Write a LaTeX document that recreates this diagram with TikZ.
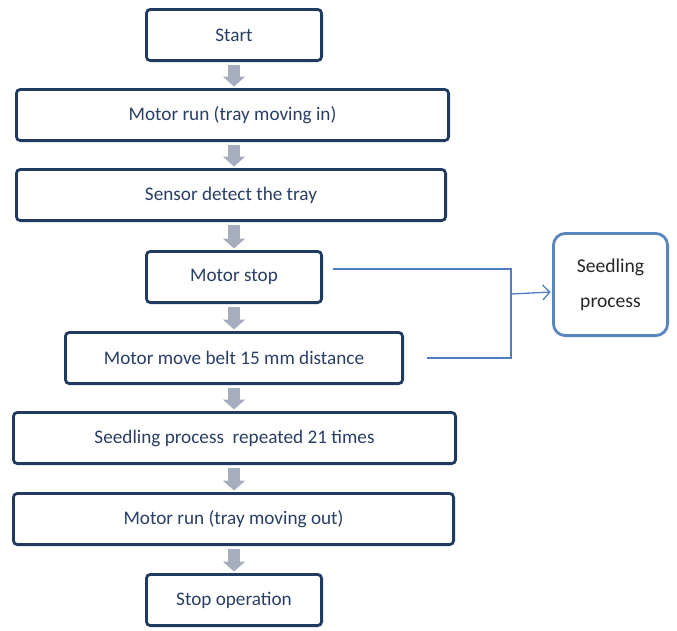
\documentclass[tikz,border=0pt]{standalone}
\usepackage{fontspec}
\setmainfont{Carlito}
\usetikzlibrary{arrows.meta}
\definecolor{boxline}{HTML}{213A62}
\definecolor{boxtext}{HTML}{2A3F66}
\definecolor{sideline}{HTML}{5A86C0}
\definecolor{linkline}{HTML}{4F7FBE}
\definecolor{flowgray}{HTML}{A6ADBC}
\tikzset{
  stepbox/.style={draw=boxline, line width=2.8pt, rounded corners=4pt, fill=white,
    minimum height=51.2pt, inner sep=0pt, text=boxtext,
    font=\fontsize{19.2}{23}\selectfont},
  sidebox/.style={draw=sideline, line width=2.8pt, rounded corners=12pt, fill=white,
    minimum width=114.2pt, minimum height=102.2pt, inner sep=0pt, align=center,
    text=black!85, font=\fontsize{19.6}{35}\selectfont},
  flow/.style={draw=flowgray, line width=12pt,
    -{Triangle[width=22pt,length=10pt]}, shorten <=2.5pt, shorten >=1.5pt},
  link/.style={draw=linkline, line width=1.3pt},
}
\begin{document}
\begin{tikzpicture}[x=1pt,y=-1pt]
  \useasboundingbox (0,0) rectangle (677,630);

  % main sequence of steps
  \node[stepbox, minimum width=175.2pt] (start) at (234,35)   {\raisebox{-1.5pt}{Start}};
  \node[stepbox, minimum width=432.2pt] (runin) at (232.5,115) {\raisebox{-1.5pt}{Motor run (tray moving in)}};
  \node[stepbox, minimum width=429.2pt] (sense) at (231,195)   {\raisebox{-1.5pt}{Sensor detect the tray}};
  \node[stepbox, minimum width=175.2pt] (mstop) at (234,277)   {\raisebox{-1.5pt}{Motor stop}};
  \node[stepbox, minimum width=337.2pt] (belt)  at (234,358)   {\raisebox{-1.5pt}{Motor move belt 15 mm distance}};
  \node[stepbox, minimum width=442.2pt] (rep)   at (234.5,438) {\raisebox{-1.5pt}{Seedling process\ \ repeated 21 times}};
  \node[stepbox, minimum width=440.2pt] (runout) at (233.5,519) {\raisebox{-1.5pt}{Motor run (tray moving out)}};
  \node[stepbox, minimum width=175.2pt] (fin)   at (234,600)   {\raisebox{-1.5pt}{Stop operation}};

  % side process
  \node[sidebox] (seed) at (610.5,284.5) {Seedling\\process};

  % block arrows between the steps
  \draw[flow] (start.south  -| 234,0) -- (runin.north  -| 234,0);
  \draw[flow] (runin.south  -| 234,0) -- (sense.north  -| 234,0);
  \draw[flow] (sense.south  -| 234,0) -- (mstop.north  -| 234,0);
  \draw[flow] (mstop.south  -| 234,0) -- (belt.north   -| 234,0);
  \draw[flow] (belt.south   -| 234,0) -- (rep.north    -| 234,0);
  \draw[flow] (rep.south    -| 234,0) -- (runout.north -| 234,0);
  \draw[flow] (runout.south -| 234,0) -- (fin.north    -| 234,0);

  % bracket joining the two motor steps to the seedling process
  \coordinate (stopout) at ([xshift=10pt,yshift=8pt]mstop.east);
  \coordinate (beltout) at ([xshift=23pt]belt.east);
  \coordinate (joint) at (511,294);
  \draw[link] (stopout) -- (stopout -| joint) -- (beltout -| joint) -- (beltout);
  \draw[link, -{Straight Barb[length=7pt,width=15pt]}] (joint) -- ([xshift=-1.4pt,yshift=-7.5pt]seed.west);
\end{tikzpicture}
\end{document}
